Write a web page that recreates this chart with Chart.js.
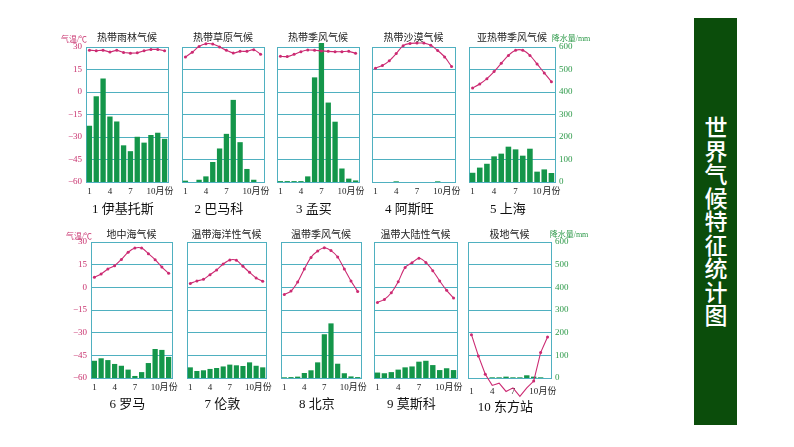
<!DOCTYPE html>
<html>
<head>
<meta charset="utf-8">
<script src="https://cdn.jsdelivr.net/npm/chart.js@4"></script>
<style>
  body { margin: 0; width: 794px; height: 447px; background: #fff; position: relative; overflow: hidden;
         font-family: "Liberation Serif", "Noto Sans CJK SC", serif; }
  canvas { position: absolute; }
  .lbl { position: absolute; white-space: nowrap; transform: translate(-50%, -50%); }
  .climate { font-size: 10px; color: #222; }
  .city { font-size: 13px; color: #111; }
  .unitT { font-size: 8px; color: #c8326e; }
  .unitP { font-size: 8px; color: #2e9a4a; }
  #side { position: absolute; left: 694px; top: 18px; width: 43px; height: 407px; background: #0b4d0b; }
  #side span { position: absolute; left: 50%; top: 50%; transform: translate(-50%, -50%);
               writing-mode: vertical-rl; white-space: nowrap; color: #fff;
               font-family: "Noto Sans CJK SC", sans-serif;
               font-size: 23px; letter-spacing: 0.5px; font-weight: 500; line-height: 1; }
</style>
</head>
<body>
<div id="side"><span>世界气候特征统计图</span></div>
<script>
// ---- data ----
const months = ['1', '2', '3', '4', '5', '6', '7', '8', '9', '10', '11', '12'];
const monthTicks = ['1', '', '', '4', '', '', '7', '', '', '10', '', '月份'];

const climates = ['热带雨林气候', '热带草原气候', '热带季风气候', '热带沙漠气候', '亚热带季风气候',
                  '地中海气候', '温带海洋性气候', '温带季风气候', '温带大陆性气候', '极地气候'];
const cities = ['1 伊基托斯', '2 巴马科', '3 孟买', '4 阿斯旺', '5 上海',
                '6 罗马', '7 伦敦', '8 北京', '9 莫斯科', '10 东方站'];

// temperature (℃)
const tempIquitos  = [27.9, 27.5, 27.9, 26.6, 27.9, 26.3, 25.9, 26.1, 27.5, 28.4, 28.4, 27.5];
const tempBamako   = [23.3, 26.5, 30.4, 32.2, 32.0, 30.0, 27.8, 26.0, 27.1, 27.1, 28.2, 25.1];
const tempMumbai   = [23.8, 23.6, 25.1, 26.9, 28.0, 27.8, 27.4, 27.1, 26.9, 26.9, 27.1, 25.8];
const tempAswan    = [15.9, 17.7, 20.8, 25.6, 30.9, 32.4, 32.6, 32.6, 31.1, 27.6, 23.4, 17.0];
const tempShanghai = [2.7, 5.3, 8.9, 13.6, 19.1, 24.4, 27.8, 27.8, 24.4, 18.7, 12.7, 6.9];
const tempRome     = [6.6, 8.8, 12.1, 14.3, 18.5, 23.2, 26.0, 26.0, 22.3, 18.3, 13.4, 9.3];
const tempLondon   = [2.6, 4.2, 5.3, 8.4, 11.5, 15.4, 18.1, 17.9, 13.9, 9.9, 6.2, 4.0];
const tempBeijing  = [-4.7, -2.5, 3.5, 12.1, 19.8, 24.0, 26.2, 24.3, 20.1, 12.1, 4.2, -2.7];
const tempMoscow   = [-10.0, -8.0, -3.6, 3.7, 13.2, 16.3, 19.2, 16.5, 11.0, 4.2, -2.0, -7.1];
const tempVostok   = [-31.3, -45.4, -57.5, -64.9, -63.4, -68.9, -66.5, -72.1, -66.5, -62.0, -43.2, -32.9];

// precipitation (mm)
const rainIquitos  = [250, 381, 460, 291, 269, 163, 137, 201, 175, 209, 219, 192];
const rainBamako   = [6, 0, 10, 25, 89, 149, 214, 365, 177, 58, 10, 0];
const rainMumbai   = [4, 4, 4, 4, 25, 465, 618, 353, 268, 60, 15, 7];
const rainAswan    = [0, 0, 0, 3, 0, 0, 0, 0, 0, 3, 0, 0];
const rainShanghai = [41, 64, 81, 114, 126, 157, 145, 117, 148, 46, 56, 40];
const rainRome     = [76, 87, 79, 62, 54, 37, 9, 26, 66, 128, 124, 93];
const rainLondon   = [47, 31, 34, 40, 44, 51, 59, 56, 53, 69, 54, 47];
const rainBeijing  = [3, 4, 6, 22, 34, 69, 193, 241, 63, 21, 7, 4];
const rainMoscow   = [24, 21, 26, 37, 47, 51, 72, 76, 57, 35, 43, 35];
const rainVostok   = [0, 0, 0, 3, 3, 6, 3, 3, 12, 6, 3, 0];

const temps = [tempIquitos, tempBamako, tempMumbai, tempAswan, tempShanghai,
               tempRome, tempLondon, tempBeijing, tempMoscow, tempVostok];
const rains = [rainIquitos, rainBamako, rainMumbai, rainAswan, rainShanghai,
               rainRome, rainLondon, rainBeijing, rainMoscow, rainVostok];

// ---- layout: plot boxes [left, top, right, bottom] ----
const boxes = [
  [86, 47, 168, 182], [182, 47, 264, 182], [277, 47, 359, 182], [372, 47, 455, 182], [469, 47, 555, 182],
  [91, 242, 172, 378], [187, 242, 266, 378], [281, 242, 361, 378], [374, 242, 457, 378], [468, 242, 551, 378]
];

const gridColor = '#4fb0c0';
const lineColor = '#cc2a72';
const barColor = '#14964a';
const serif = '"Liberation Serif", "Noto Sans CJK SC", serif';

function addLabel(text, cls, x, y) {
  const d = document.createElement('div');
  d.className = 'lbl ' + cls;
  d.textContent = text;
  d.style.left = x + 'px';
  d.style.top = y + 'px';
  document.body.appendChild(d);
}

function makePanel(i) {
  const [x0, y0, x1, y1] = boxes[i];
  const padTop = 10, side = 34, bottom = 24;
  const w = x1 - x0 + side * 2;
  const h = y1 - y0 + padTop + bottom;
  const cv = document.createElement('canvas');
  cv.width = w; cv.height = h;
  cv.style.left = (x0 - side) + 'px';
  cv.style.top = (y0 - padTop) + 'px';
  cv.style.width = w + 'px';
  cv.style.height = h + 'px';
  document.body.appendChild(cv);

  const showLeft = i === 0 || i === 5;
  const showRight = i === 4 || i === 9;

  new Chart(cv, {
    type: 'bar',
    data: {
      labels: months,
      datasets: [
        {
          type: 'line', data: temps[i], yAxisID: 'yT', order: 0,
          borderColor: lineColor, backgroundColor: lineColor, borderWidth: 1.1,
          pointRadius: 1.5, pointBorderWidth: 0, tension: (i === 0 || i === 9) ? 0 : 0.3,
          clip: false
        },
        {
          type: 'bar', data: rains[i], yAxisID: 'yP', order: 1,
          backgroundColor: barColor, barPercentage: 0.78, categoryPercentage: 1, clip: false
        }
      ]
    },
    options: {
      responsive: false, animation: false, devicePixelRatio: 1,
      layout: { padding: { top: padTop, left: 0, right: 0, bottom: 0 } },
      plugins: { legend: { display: false }, tooltip: { enabled: false } },
      scales: {
        x: {
          grid: { display: false, drawTicks: false },
          border: { color: gridColor },
          ticks: {
            autoSkip: false, maxRotation: 0, padding: i === 9 ? 8 : 4,
            color: '#222', font: { family: serif, size: 9 },
            callback: (v, idx) => monthTicks[idx]
          },
          afterFit: s => { s.height = bottom; }
        },
        yT: {
          position: 'left', min: -60, max: 30,
          grid: { color: gridColor, drawTicks: false },
          border: { color: gridColor },
          ticks: {
            stepSize: 15, display: showLeft, padding: 4, color: '#c8326e',
            font: { family: serif, size: 9 },
            callback: v => v < 0 ? '−' + (-v) : String(v)
          },
          afterFit: s => { s.width = side; }
        },
        yP: {
          position: 'right', min: 0, max: 600,
          grid: { display: false, drawTicks: false },
          border: { color: gridColor },
          ticks: {
            stepSize: 100, display: showRight, padding: 4, color: '#2e9a4a',
            font: { family: serif, size: 9 }
          },
          afterFit: s => { s.width = side; }
        }
      }
    }
  });

  const cx = (x0 + x1) / 2;
  addLabel(climates[i], 'climate', cx, i < 5 ? 36 : 233);
  addLabel(cities[i], 'city', cx - 4, i < 5 ? 207 : (i === 9 ? 405 : 402));
}

for (let i = 0; i < boxes.length; i++) makePanel(i);

addLabel('气温/℃', 'unitT', 74, 38);
addLabel('气温/℃', 'unitT', 79, 235);
addLabel('降水量/mm', 'unitP', 571, 37);
addLabel('降水量/mm', 'unitP', 569, 233);
</script>
</body>
</html>
